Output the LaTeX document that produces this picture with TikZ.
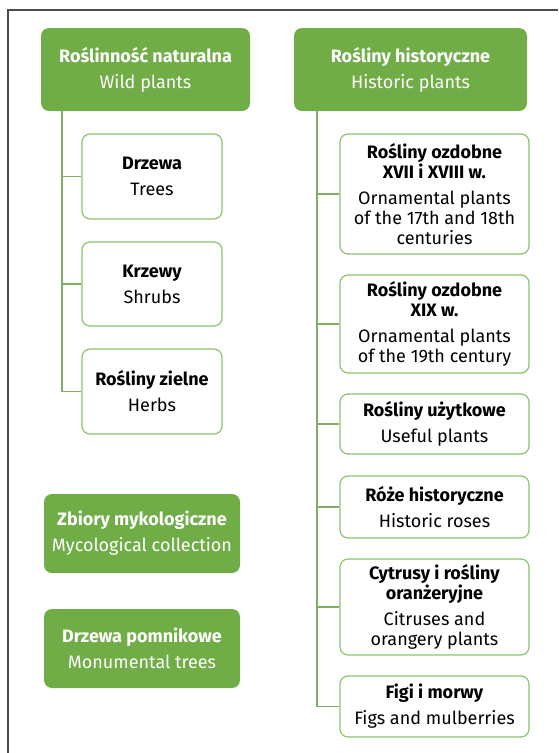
\documentclass[tikz,border=0pt]{standalone}
\usepackage{fontspec}
\setmainfont{Fira Sans}
\definecolor{leafgreen}{HTML}{70AD47}
\definecolor{edgegreen}{HTML}{8DC26F}
\definecolor{framegray}{HTML}{4A4A4A}
\newcommand{\plname}[2]{\textbf{#1}\\[6pt]#2}
\tikzset{
  groupbox/.style={rectangle, rounded corners=8pt, fill=leafgreen, text=white,
    align=center, inner sep=0pt, font=\fontsize{18}{20}\selectfont},
  leafbox/.style={rectangle, rounded corners=8pt, draw=edgegreen, line width=1.2pt,
    fill=white, align=center, inner sep=0pt, font=\fontsize{18}{20}\selectfont},
  branch/.style={draw=edgegreen!90!black, line width=1.3pt}
}
\begin{document}
\begin{tikzpicture}[x=1pt,y=-1pt]
   \useasboundingbox (0,0) rectangle (558,753);
   %% ramka: tylko gorna i lewa krawedz
   \draw[framegray, line width=1.5pt] (558,10) -- (8,10) -- (8,753);

   %% lewa kolumna
   \node[groupbox, minimum width=209pt, minimum height=83pt] (wild) at (145.5,69.5)
      {\plname{Roślinność naturalna}{Wild plants}};
   \node[leafbox, minimum width=140pt, minimum height=85pt] (drzewa) at (152,176.5)
      {\plname{Drzewa}{Trees}};
   \node[leafbox, minimum width=140pt, minimum height=84pt] (krzewy) at (152,284)
      {\plname{Krzewy}{Shrubs}};
   \node[leafbox, minimum width=140pt, minimum height=85pt] (zielne) at (152,391.5)
      {\plname{Rośliny zielne}{Herbs}};
   \node[groupbox, minimum width=196pt, minimum height=79pt] (myko) at (142,533.5)
      {\plname{Zbiory mykologiczne}{Mycological collection}};
   \node[groupbox, minimum width=196pt, minimum height=79pt] (pomnik) at (142,648.5)
      {\plname{Drzewa pomnikowe}{Monumental trees}};

   %% prawa kolumna
   \node[groupbox, minimum width=233pt, minimum height=83pt] (hist) at (410.5,69.5)
      {\plname{Rośliny historyczne}{Historic plants}};
   \node[leafbox, minimum width=189pt, minimum height=120pt] (ozd17) at (434.5,194)
      {\textbf{Rośliny ozdobne}\\\textbf{XVII i XVIII w.}\\[6pt]Ornamental plants\\of the 17th and 18th\\centuries};
   \node[leafbox, minimum width=189pt, minimum height=98pt] (ozd19) at (434.5,324)
      {\textbf{Rośliny ozdobne}\\\textbf{XIX w.}\\[6pt]Ornamental plants\\of the 19th century};
   \node[leafbox, minimum width=189pt, minimum height=60pt] (uzyt) at (434.5,424)
      {\plname{Rośliny użytkowe}{Useful plants}};
   \node[leafbox, minimum width=189pt, minimum height=62pt] (roze) at (434.5,507)
      {\plname{Róże historyczne}{Historic roses}};
   \node[leafbox, minimum width=189pt, minimum height=96pt] (cytr) at (434.5,607)
      {\textbf{Cytrusy i rośliny}\\\textbf{oranżeryjne}\\[6pt]Citruses and\\orangery plants};
   \node[leafbox, minimum width=189pt, minimum height=61pt] (figi) at (434.5,706.5)
      {\plname{Figi i morwy}{Figs and mulberries}};

   %% galezie
   \coordinate (wildroot) at (wild.south -| 62,0);
   \coordinate (histroot) at (hist.south -| 317,0);
   \foreach \n in {drzewa,krzewy,zielne}
   {
       \draw[branch] (wildroot) |- (\n);
   }
   \foreach \n in {ozd17,ozd19,uzyt,roze,cytr,figi}
   {
       \draw[branch] (histroot) |- (\n);
   }
\end{tikzpicture}
\end{document}
